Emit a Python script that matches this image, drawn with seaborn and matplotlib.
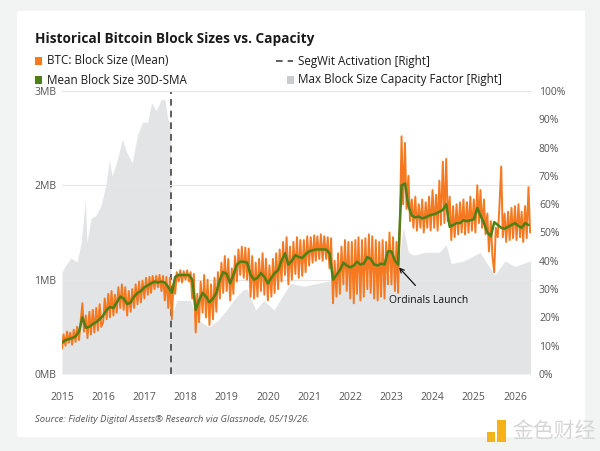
import matplotlib
matplotlib.use("Agg")
import matplotlib.pyplot as plt
import matplotlib.dates as mdates
from matplotlib.patches import Rectangle
from matplotlib.lines import Line2D
import numpy as np
import pandas as pd
import seaborn as sns

# --- data ---
# BTC mean block size, MB, twice a month (1st and 16th)
orange_2015 = [0.27, 0.42, 0.30, 0.45, 0.33, 0.44, 0.31, 0.47, 0.34, 0.50, 0.36, 0.55,
               0.75, 0.45, 0.62, 0.38, 0.66, 0.42, 0.68, 0.44, 0.70, 0.46, 0.74, 0.50]
orange_2016 = [0.55, 0.80, 0.58, 0.85, 0.60, 0.88, 0.62, 0.84, 0.65, 0.92, 0.70, 0.95,
               0.68, 0.92, 0.62, 0.88, 0.66, 0.90, 0.70, 0.95, 0.74, 0.98, 0.76, 0.99]
orange_2017 = [0.80, 1.02, 0.84, 1.03, 0.86, 1.04, 0.90, 1.04, 0.92, 1.05, 0.88, 1.04,
               0.78, 1.03, 0.70, 1.02, 0.58, 0.95, 0.85, 1.08, 0.98, 1.10, 0.97, 1.09]
orange_2018 = [1.00, 1.10, 0.98, 1.08, 0.80, 1.06, 0.44, 0.85, 0.55, 0.98, 0.65, 1.05,
               0.60, 1.00, 0.52, 0.95, 0.58, 1.02, 0.66, 1.08, 0.80, 1.18, 0.86, 1.25]
orange_2019 = [0.88, 1.22, 0.78, 1.12, 0.85, 1.25, 0.98, 1.32, 1.05, 1.35, 1.02, 1.34,
               1.00, 1.33, 0.82, 1.25, 0.80, 1.18, 0.82, 1.22, 0.88, 1.28, 0.84, 1.22]
orange_2020 = [0.78, 1.15, 0.82, 1.22, 0.86, 1.28, 0.90, 1.32, 0.98, 1.40, 1.05, 1.45,
               0.95, 1.35, 1.00, 1.40, 1.06, 1.45, 1.02, 1.42, 1.04, 1.42, 1.08, 1.46]
orange_2021 = [1.15, 1.45, 1.18, 1.47, 1.20, 1.46, 1.22, 1.48, 1.20, 1.46, 1.22, 1.45,
               1.12, 1.44, 0.75, 1.20, 0.82, 1.28, 0.85, 1.35, 0.95, 1.42, 0.88, 1.40]
orange_2022 = [0.80, 1.40, 0.75, 1.42, 0.85, 1.45, 0.78, 1.42, 0.82, 1.44, 0.90, 1.48,
               0.86, 1.46, 0.80, 1.42, 0.78, 1.40, 0.82, 1.42, 0.80, 1.40, 0.95, 1.50]
orange_2023 = [0.95, 1.45, 0.88, 1.40, 0.86, 1.50, 2.52, 1.80, 2.45, 1.75, 2.10, 1.62,
               1.85, 1.55, 1.88, 1.52, 1.80, 1.55, 1.85, 1.50, 1.82, 1.55, 1.88, 1.52]
orange_2024 = [1.95, 1.55, 1.90, 1.52, 2.05, 1.58, 2.25, 1.60, 2.28, 1.62, 1.88, 1.42,
               1.78, 1.45, 1.80, 1.48, 1.82, 1.50, 1.85, 1.48, 1.82, 1.50, 1.88, 1.52]
orange_2025 = [1.85, 1.50, 2.00, 1.60, 1.95, 1.55, 1.85, 1.48, 1.70, 1.30, 1.62, 1.25,
               1.08, 1.55, 1.45, 1.75, 2.20, 1.45, 1.70, 1.40, 1.72, 1.42, 1.76, 1.44]
orange_2026 = [1.78, 1.42, 1.80, 1.45, 1.72, 1.40, 1.78, 1.44, 1.98, 1.50]

# 30-day SMA of block size, MB, monthly
sma_2015 = [0.33, 0.36, 0.37, 0.38, 0.40, 0.45, 0.60, 0.49, 0.50, 0.53, 0.55, 0.58]
sma_2016 = [0.62, 0.68, 0.71, 0.70, 0.76, 0.82, 0.80, 0.74, 0.76, 0.82, 0.86, 0.88]
sma_2017 = [0.92, 0.94, 0.96, 0.98, 0.97, 0.98, 0.97, 0.92, 0.86, 1.03, 1.05, 1.05]
sma_2018 = [1.05, 1.05, 1.00, 0.68, 0.78, 0.86, 0.82, 0.76, 0.80, 0.86, 1.00, 1.08]
sma_2019 = [1.06, 0.96, 1.05, 1.16, 1.19, 1.19, 1.18, 1.05, 1.00, 1.02, 1.07, 1.03]
sma_2020 = [0.96, 1.02, 1.07, 1.10, 1.20, 1.28, 1.16, 1.20, 1.26, 1.24, 1.23, 1.27]
sma_2021 = [1.30, 1.31, 1.32, 1.32, 1.32, 1.32, 1.28, 1.00, 1.05, 1.10, 1.18, 1.15]
sma_2022 = [1.13, 1.15, 1.19, 1.16, 1.17, 1.24, 1.22, 1.16, 1.15, 1.17, 1.16, 1.30]
sma_2023 = [1.30, 1.20, 1.16, 2.00, 2.02, 1.78, 1.68, 1.66, 1.67, 1.65, 1.66, 1.68]
sma_2024 = [1.69, 1.70, 1.72, 1.74, 1.80, 1.56, 1.58, 1.60, 1.60, 1.63, 1.62, 1.63]
sma_2025 = [1.64, 1.76, 1.68, 1.60, 1.50, 1.46, 1.61, 1.58, 1.55, 1.54, 1.56, 1.58]
sma_2026 = [1.60, 1.57, 1.55, 1.60, 1.58]

# max block size capacity factor, % (right axis)
cap_dates = ["2015-01-01", "2015-02-05", "2015-03-20", "2015-05-15", "2015-06-20", "2015-07-28",
             "2015-08-10", "2015-09-15", "2015-10-30", "2015-12-15", "2016-01-30", "2016-02-25",
             "2016-03-20", "2016-05-08", "2016-06-20", "2016-07-25", "2016-09-15", "2016-11-01",
             "2016-12-15", "2017-01-30", "2017-03-05", "2017-04-15", "2017-06-01", "2017-07-01",
             "2017-07-25", "2017-08-23", "2017-08-24", "2017-09-20", "2017-10-15", "2018-02-15",
             "2018-04-01", "2018-06-01", "2018-08-01", "2018-10-15", "2019-01-01", "2019-03-01",
             "2019-05-25", "2019-07-01", "2019-09-15", "2019-11-25", "2020-02-25", "2020-05-01",
             "2020-07-20", "2020-11-15", "2021-01-10", "2021-07-15", "2022-06-30", "2022-12-20",
             "2023-01-20", "2023-02-25", "2023-04-15", "2023-05-10", "2023-06-01", "2023-07-15",
             "2023-11-01", "2024-03-01", "2024-04-30", "2024-06-15", "2024-10-10", "2025-02-25",
             "2025-05-15", "2025-07-08", "2025-10-05", "2026-01-01", "2026-05-19"]
cap_pct = [36, 38.5, 41, 39.6, 46.6, 61.5,
           46.6, 55, 56, 59.7, 67.8, 75.6,
           70, 76, 83, 78.5, 74.6, 84.5,
           89, 89, 95.8, 93, 97, 97,
           90.5, 88, 22.6, 22.6, 26, 26,
           20, 18, 16.6, 19, 22.6, 26,
           29.7, 30, 22.6, 26, 22.6, 27,
           32, 31, 31.5, 33, 33, 35,
           37, 36, 52, 47, 43, 42,
           43, 43, 45.6, 39, 40, 43,
           38, 35, 40, 38, 40]

segwit_date = "2017-08-24"
ordinals_label = "Ordinals Launch"

# --- frames ---
orange_vals = (orange_2015 + orange_2016 + orange_2017 + orange_2018 + orange_2019 + orange_2020 +
               orange_2021 + orange_2022 + orange_2023 + orange_2024 + orange_2025 + orange_2026)
sma_vals = (sma_2015 + sma_2016 + sma_2017 + sma_2018 + sma_2019 + sma_2020 +
            sma_2021 + sma_2022 + sma_2023 + sma_2024 + sma_2025 + sma_2026)
orange_df = pd.DataFrame({"date": pd.date_range("2015-01-01", periods=len(orange_vals), freq="SMS"),
                          "mb": orange_vals})
sma_df = pd.DataFrame({"date": pd.date_range("2015-01-01", periods=len(sma_vals), freq="MS"),
                       "mb": sma_vals})
cap_df = pd.DataFrame({"date": pd.to_datetime(cap_dates), "pct": cap_pct})

# --- style ---
sns.set_theme(style="white")
plt.rcParams["font.family"] = ["Open Sans", "DejaVu Sans"]

ORANGE = "#f47920"
GREEN = "#4f7f17"
GREY = "#e2e4e6"
TICK = "#555555"

fig = plt.figure(figsize=(6, 4.51), dpi=100, facecolor="#f2f3f3")
fig.patches.append(Rectangle((17 / 600, 1 - 437 / 451), 568 / 600, 426 / 451,
                             transform=fig.transFigure, facecolor="white", edgecolor="none", zorder=-5))

ax = fig.add_axes([62 / 600, 1 - 374 / 451, 470 / 600, 283 / 451])
ax2 = ax.twinx()
ax.set_zorder(ax2.get_zorder() + 1)
ax.patch.set_visible(False)
ax2.patch.set_visible(False)

# capacity factor area (right axis)
ax2.fill_between(cap_df["date"], cap_df["pct"], 0, color=GREY, lw=0)
ax2.axvline(pd.Timestamp(segwit_date), color="#444444", lw=1.2, linestyle=(0, (4, 3)), zorder=5)

# block size lines (left axis)
sns.lineplot(data=orange_df, x="date", y="mb", ax=ax, color=ORANGE, linewidth=1.4)
sns.lineplot(data=sma_df, x="date", y="mb", ax=ax, color=GREEN, linewidth=1.8)

ax.set_xlim(pd.Timestamp("2015-01-01"), pd.Timestamp("2026-06-01"))
ax.set_ylim(0, 3)
ax2.set_ylim(0, 100)
ax.set_yticks([0, 1, 2, 3])
ax.set_yticklabels(["0MB", "1MB", "2MB", "3MB"])
ax2.set_yticks(range(0, 101, 10))
ax2.set_yticklabels([f"{v}%" for v in range(0, 101, 10)])
ax.xaxis.set_major_locator(mdates.YearLocator())
ax.xaxis.set_major_formatter(mdates.DateFormatter("%Y"))
ax.set_xlabel("")
ax.set_ylabel("")
ax2.set_ylabel("")

ax.grid(axis="y", color="#e6e6e6", lw=0.8)
ax.grid(axis="x", visible=False)
for a in (ax, ax2):
    for s in a.spines.values():
        s.set_visible(False)
ax.tick_params(axis="y", length=0, pad=4, labelsize=7.5, labelcolor=TICK)
ax.tick_params(axis="x", length=0, pad=13, labelsize=7.5, labelcolor=TICK)
ax2.tick_params(axis="y", length=0, pad=5, labelsize=7.5, labelcolor=TICK)

# ordinals annotation
ax.annotate(ordinals_label, xy=(pd.Timestamp("2023-03-01"), 1.14),
            xytext=(pd.Timestamp("2023-12-01"), 0.78), ha="center", va="center",
            fontsize=7.5, color="#111111",
            arrowprops=dict(arrowstyle="->", color="#111111", lw=0.9, shrinkA=6, shrinkB=1))

# title, legend, source
fig.text(35 / 600, 1 - 39 / 451, "Historical Bitcoin Block Sizes vs. Capacity",
         fontsize=9.8, fontweight="bold", color="#1a1a1a", va="center")

def legend_square(x, y, color):
    fig.patches.append(Rectangle((x / 600, 1 - (y + 4) / 451), 7 / 600, 8 / 451,
                                 transform=fig.transFigure, facecolor=color, edgecolor="none"))

legend_square(35, 61, ORANGE)
legend_square(35, 80, GREEN)
legend_square(287, 80, "#c9cbce")
fig.lines.append(Line2D([276 / 600, 293 / 600], [1 - 61 / 451, 1 - 61 / 451], transform=fig.transFigure,
                        color="#444444", lw=1.2, linestyle=(0, (4, 3))))
for x, y, label in [(47, 61, "BTC: Block Size (Mean)"), (47, 80, "Mean Block Size 30D-SMA"),
                    (298, 61, "SegWit Activation [Right]"), (298, 80, "Max Block Size Capacity Factor [Right]")]:
    fig.text(x / 600, 1 - y / 451, label, fontsize=8.4, color="#1a1a1a", va="center")

fig.text(35 / 600, 1 - 420 / 451, "Source: Fidelity Digital Assets® Research via Glassnode, 05/19/26.",
         fontsize=6.8, style="italic", color="#555555", va="center")

# watermark
fig.patches.append(Rectangle((487 / 600, 1 - 442 / 451), 8 / 600, 10 / 451, transform=fig.transFigure,
                             facecolor="#f5b31b", edgecolor="none"))
fig.patches.append(Rectangle((497 / 600, 1 - 442 / 451), 9 / 600, 22 / 451, transform=fig.transFigure,
                             facecolor="#f5b31b", edgecolor="none"))
fig.text(512 / 600, 1 - 431 / 451, "金色财经", fontsize=15, color="#d6d6d6", va="center",
         family=["Noto Sans CJK SC", "DejaVu Sans"])

fig.savefig("out.png", dpi=100, facecolor=fig.get_facecolor())
